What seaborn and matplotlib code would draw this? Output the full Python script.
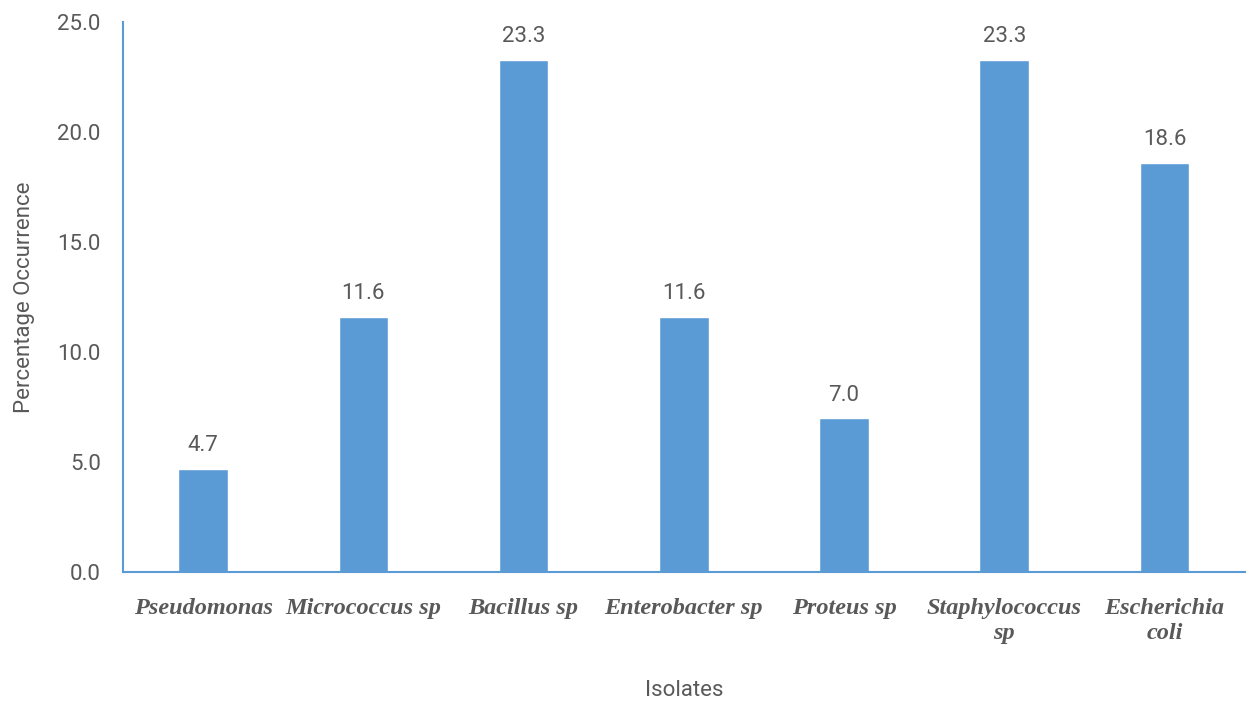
import pandas as pd
import seaborn as sns
import matplotlib.pyplot as plt

# chart data
isolates = ['Pseudomonas', 'Micrococcus sp', 'Bacillus sp', 'Enterobacter sp',
            'Proteus sp', 'Staphylococcus\nsp', 'Escherichia\ncoli']
occurrence = [4.7, 11.6, 23.3, 11.6, 7.0, 23.3, 18.6]
y_ticks = [0, 5, 10, 15, 20, 25]

df = pd.DataFrame({'isolate': isolates, 'pct': occurrence})

sns.set_style('white')
plt.rcParams['font.family'] = ['Roboto', 'DejaVu Sans']

blue = '#5B9BD5'
grey = '#595959'

fig = plt.figure(figsize=(12.49, 7.04), dpi=100)
ax = fig.add_axes([0.0985, 0.1875, 0.898, 0.781])

sns.barplot(data=df, x='isolate', y='pct', color=blue, width=0.31,
            saturation=1, ax=ax)

ax.set_ylim(0, 25)
ax.set_xlim(-0.5, len(isolates) - 0.5)
ax.set_yticks(y_ticks)
ax.set_yticklabels([f'{v:.1f}' for v in y_ticks], fontsize=16, color=grey)
ax.tick_params(axis='y', length=0, pad=16)
ax.tick_params(axis='x', length=0, pad=19)
for lbl in ax.get_xticklabels():
    lbl.set_fontfamily('Liberation Serif')
    lbl.set_fontstyle('italic')
    lbl.set_fontweight('bold')
    lbl.set_fontsize(17.5)
    lbl.set_color(grey)
    lbl.set_linespacing(1.2)

for c in ax.containers:
    ax.bar_label(c, labels=[f'{v:.1f}' for v in occurrence], padding=9,
                 fontsize=16, color=grey)

ax.set_xlabel('Isolates', fontsize=16, color=grey, labelpad=26)
ax.set_ylabel('Percentage Occurrence', fontsize=16, color=grey, labelpad=16)

for side in ['top', 'right']:
    ax.spines[side].set_visible(False)
for side in ['left', 'bottom']:
    ax.spines[side].set_color(blue)
    ax.spines[side].set_linewidth(1.5)

fig.savefig('out.png', dpi=100)
